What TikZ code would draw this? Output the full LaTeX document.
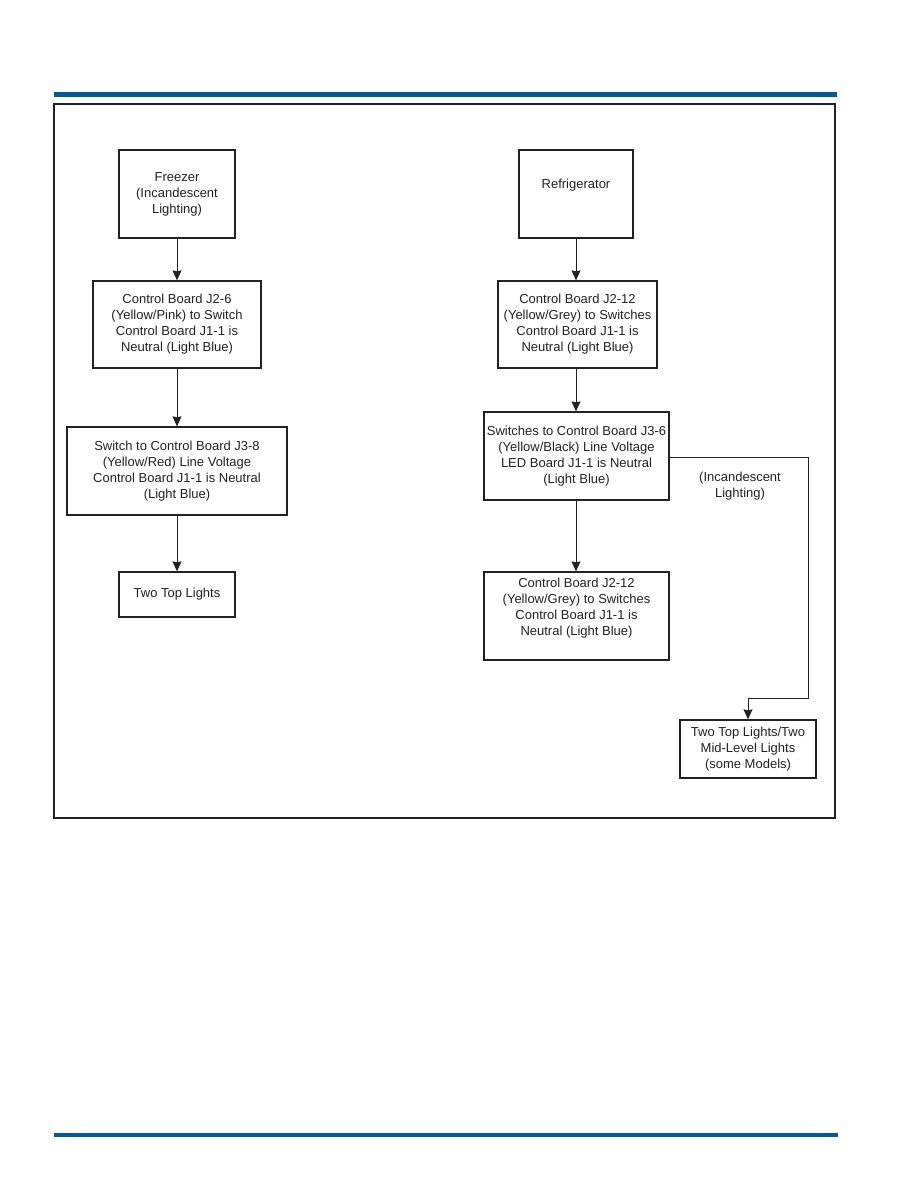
\documentclass[tikz,border=0pt]{standalone}
\usepackage{fontspec}
\setmainfont{Liberation Sans}
\usetikzlibrary{arrows.meta}
\definecolor{barblue}{HTML}{005A96}
\definecolor{ink}{HTML}{222222}
\tikzset{
  box/.style={draw=ink, line width=1.3pt, inner sep=0pt},
  txt/.style={align=center, font=\fontsize{13}{16}\selectfont, text=ink, inner sep=0pt},
  link/.style={draw=ink, line width=1pt, -{Stealth[length=10pt,width=9pt,inset=1pt]}},
}
\begin{document}
\begin{tikzpicture}[x=1pt,y=-1pt]
\useasboundingbox (0,0) rectangle (918,1188);
\fill[white] (0,0) rectangle (918,1188);
% bars and frame
\fill[barblue] (54,92) rectangle (837,97);
\fill[barblue] (54,1133) rectangle (838,1137);
\draw[ink, line width=1.2pt] (54,104) rectangle (835,818);

% left column
\node[box, txt, minimum width=116pt, minimum height=88pt] (frz) at (177,194) {Freezer\\(Incandescent\\Lighting)};
\node[box, txt, minimum width=168pt, minimum height=87pt] (cb26) at (177,324.5) {Control Board J2-6\\(Yellow/Pink) to Switch\\Control Board J1-1 is\\Neutral (Light Blue)};
\node[box, txt, minimum width=220pt, minimum height=88pt] (sw38) at (177,471) {Switch to Control Board J3-8\\(Yellow/Red) Line Voltage\\Control Board J1-1 is Neutral\\(Light Blue)};
\node[box, txt, minimum width=116pt, minimum height=45pt] (ttl) at (177,594.5) {Two Top Lights};

% right column
\node[box, minimum width=114pt, minimum height=88pt] (ref) at (576,194) {};
\node[txt] (reft) at (576,185) {Refrigerator};
\node[box, txt, minimum width=159pt, minimum height=87pt] (cb212) at (577.5,324.5) {Control Board J2-12\\(Yellow/Grey) to Switches\\Control Board J1-1 is\\Neutral (Light Blue)};
\node[box, txt, minimum width=185pt, minimum height=88pt] (sw36) at (576.5,456) {Switches to Control Board J3-6\\(Yellow/Black) Line Voltage\\LED Board J1-1 is Neutral\\(Light Blue)};
\node[box, minimum width=185pt, minimum height=88pt] (cb212b) at (576.5,616) {};
\node[txt] (cb212bt) at (576.5,608) {Control Board J2-12\\(Yellow/Grey) to Switches\\Control Board J1-1 is\\Neutral (Light Blue)};
\node[box, txt, minimum width=136pt, minimum height=58pt] (ttm) at (748,749) {Two Top Lights/Two\\Mid-Level Lights\\(some Models)};
\node[txt] (inc) at (740,486) {(Incandescent\\Lighting)};

\coordinate (c1) at (808,457);
\coordinate (c2) at (808,698);
\coordinate (c3) at (748,698);

% connectors
\draw[link] (frz.south) -- (cb26.north);
\draw[link] (cb26.south) -- (sw38.north);
\draw[link] (sw38.south) -- (ttl.north);
\draw[link] (ref.south) -- (ref.south |- cb212.north);
\draw[link] (ref.south |- cb212.south) -- (ref.south |- sw36.north);
\draw[link] (ref.south |- sw36.south) -- (ref.south |- cb212b.north);
\draw[link] (sw36.east |- c1) -- (c1) -- (c2) -- (c3) -- (ttm.north);
\end{tikzpicture}
\end{document}
